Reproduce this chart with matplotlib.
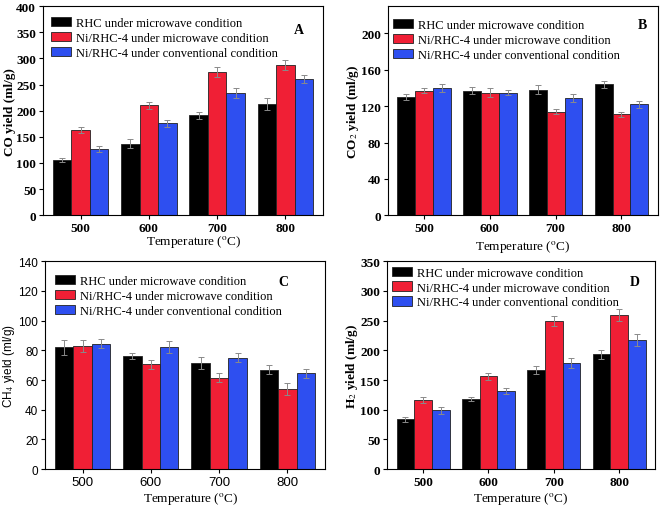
import numpy as np
import matplotlib.pyplot as plt

plt.rcParams['font.family'] = ['Liberation Serif', 'DejaVu Serif']
plt.rcParams['mathtext.fontset'] = 'stix'

temps = ['500', '600', '700', '800']
series = ['RHC under microwave condition',
          'Ni/RHC-4 under microwave condition',
          'Ni/RHC-4 under conventional condition']
colors = ['#000000', '#f01f35', '#2e4ff0']

# CO yield (ml/g)
co_rhc = [105, 137, 191, 213]
co_ni_mw = [163, 210, 274, 287]
co_ni_cv = [127, 176, 234, 261]
co_err_rhc = [4, 9, 6, 11]
co_err_ni_mw = [6, 7, 9, 10]
co_err_ni_cv = [6, 7, 9, 8]

# CO2 yield (ml/g)
co2_rhc = [130, 137, 138, 144]
co2_ni_mw = [137, 135, 114, 111]
co2_ni_cv = [140, 135, 129, 122]
co2_err_rhc = [3, 4, 5, 4]
co2_err_ni_mw = [3, 5, 3, 3]
co2_err_ni_cv = [4, 3, 4, 4]

# CH4 yield (ml/g)
ch4_rhc = [82, 76, 71.5, 67]
ch4_ni_mw = [83, 70.5, 61.5, 54]
ch4_ni_cv = [84.5, 82.5, 75, 64.5]
ch4_err_rhc = [5, 2, 4, 3]
ch4_err_ni_mw = [4, 3, 3, 4]
ch4_err_ni_cv = [3, 4, 3, 3]

# H2 yield (ml/g)
h2_rhc = [84, 118, 167, 193]
h2_ni_mw = [117, 156, 249, 259]
h2_ni_cv = [99, 132, 179, 218]
h2_err_rhc = [4, 4, 6, 8]
h2_err_ni_mw = [5, 6, 8, 10]
h2_err_ni_cv = [6, 5, 8, 10]

panels = [
    ('A', 'CO yield (ml/g)', [co_rhc, co_ni_mw, co_ni_cv],
     [co_err_rhc, co_err_ni_mw, co_err_ni_cv], 400, 50),
    ('B', 'CO$_2$ yield (ml/g)', [co2_rhc, co2_ni_mw, co2_ni_cv],
     [co2_err_rhc, co2_err_ni_mw, co2_err_ni_cv], 230, 40),
    ('C', 'CH$_4$ yield (ml/g)', [ch4_rhc, ch4_ni_mw, ch4_ni_cv],
     [ch4_err_rhc, ch4_err_ni_mw, ch4_err_ni_cv], 140, 20),
    ('D', 'H$_2$ yield (ml/g)', [h2_rhc, h2_ni_mw, h2_ni_cv],
     [h2_err_rhc, h2_err_ni_mw, h2_err_ni_cv], 350, 50),
]

# axes rectangles in figure fraction
rects = [
    [0.065, 0.576, 0.422, 0.410],
    [0.585, 0.576, 0.407, 0.410],
    [0.068, 0.078, 0.422, 0.408],
    [0.584, 0.078, 0.404, 0.408],
]
label_pos = [(0.915, 0.89), (0.945, 0.91), (0.85, 0.90), (0.925, 0.90)]
leg_anchor = [(0.0, 0.985), (-0.01, 0.975), (0.01, 0.97), (-0.01, 1.01)]
xlab_pos = [(0.54, -0.086), (0.5, -0.11), (0.52, -0.10), (0.5, -0.10)]
sans_panel = 'C'   # panel C uses sans-serif tick labels in the original

fig = plt.figure(figsize=(6.63, 5.10), dpi=100)
x = np.arange(len(temps))
w = 0.27

for i, (tag, ylab, vals, errs, ytop, ystep) in enumerate(panels):
    ax = fig.add_axes(rects[i])
    for j in range(3):
        ax.bar(x + (j - 1) * w, vals[j], w, color=colors[j],
               edgecolor='#222222', linewidth=0.6, label=series[j],
               yerr=errs[j], capsize=2,
               error_kw=dict(ecolor='#8a8a8a', elinewidth=0.7, capthick=0.7))
    ax.set_xlim(-0.55, 3.55)
    ax.set_ylim(0, ytop)
    ax.set_yticks(np.arange(0, ytop + 1, ystep))
    ax.set_xticks(x)
    ax.set_xticklabels(temps)
    ax.tick_params(direction='out', length=3, width=0.8, labelsize=9.5, pad=2)
    for lb in ax.get_xticklabels() + ax.get_yticklabels():
        if tag == sans_panel:
            lb.set_family('Liberation Sans')
        else:
            lb.set_fontweight('bold')
    if tag == sans_panel:
        ax.tick_params(axis='y', labelsize=8.5)
    ax.set_xlabel('Temperature ($^{\\rm o}$C)', fontsize=9.5)
    ax.xaxis.set_label_coords(*xlab_pos[i])
    if tag == sans_panel:
        ax.set_ylabel(ylab, fontsize=8.5, family='Liberation Sans', labelpad=1)
    else:
        ax.set_ylabel(ylab, fontsize=9.5, fontweight='bold', labelpad=0)
    ax.text(label_pos[i][0], label_pos[i][1], tag, transform=ax.transAxes,
            fontsize=10, fontweight='bold', ha='center', va='center')
    ax.legend(loc='upper left', bbox_to_anchor=leg_anchor[i], frameon=False,
              fontsize=9, handlelength=1.6, handleheight=0.8,
              handletextpad=0.4, labelspacing=0.22, borderaxespad=0.2)

fig.savefig('out.png', dpi=100)
